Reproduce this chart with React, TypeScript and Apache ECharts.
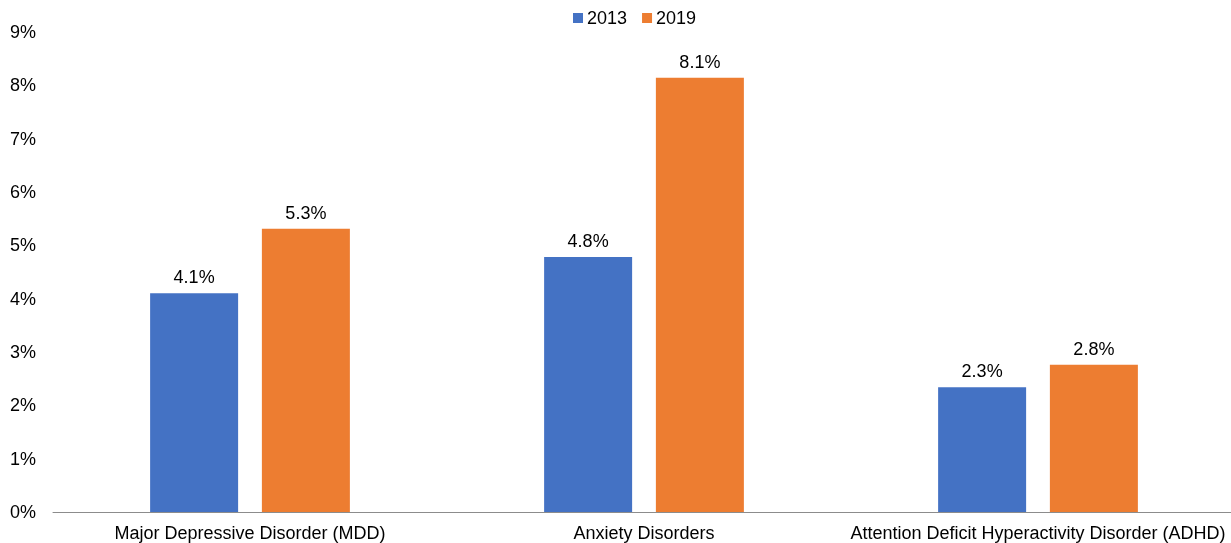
import React, { useEffect, useRef } from "react";
import * as echarts from "echarts";

const categories = [
  "Major Depressive Disorder (MDD)",
  "Anxiety Disorders",
  "Attention Deficit Hyperactivity Disorder (ADHD)",
];
const series2013 = [4.1, 4.78, 2.34];
const series2019 = [5.31, 8.14, 2.76];
const yTicks = [0, 1, 2, 3, 4, 5, 6, 7, 8, 9];

const FONT = "'Liberation Sans', Arial, sans-serif";

export default function App() {
  const ref = useRef<HTMLDivElement>(null);
  useEffect(() => {
    if (!ref.current) return;
    const chart = echarts.init(ref.current, null, { renderer: "svg" });
    const label = {
      show: true,
      position: "top" as const,
      distance: 7,
      fontSize: 18,
      fontFamily: FONT,
      color: "#000",
      formatter: (p: any) => `${Number(p.value).toFixed(1)}%`,
    };
    chart.setOption({
      animation: false,
      textStyle: { fontFamily: FONT },
      legend: {
        top: 4,
        left: 568,
        itemWidth: 10,
        itemHeight: 10,
        itemGap: 15,
        icon: "rect",
        textStyle: { fontSize: 18, color: "#000", fontFamily: FONT, padding: [0, 0, 0, -1] },
        data: ["2013", "2019"],
      },
      grid: { left: 53, right: 0, top: 32, bottom: 31, containLabel: false },
      xAxis: {
        type: "category",
        data: categories,
        axisLine: { lineStyle: { color: "#8c8c8c", width: 1 } },
        axisTick: { show: false },
        axisLabel: { fontSize: 18, color: "#000", fontFamily: FONT, margin: 12, interval: 0 },
      },
      yAxis: {
        type: "value",
        min: yTicks[0],
        max: yTicks[yTicks.length - 1],
        interval: 1,
        splitLine: { show: false },
        axisLine: { show: false },
        axisTick: { show: false },
        axisLabel: {
          fontSize: 18,
          color: "#000",
          fontFamily: FONT,
          margin: 17,
          formatter: (v: number) => `${v}%`,
        },
      },
      series: [
        {
          name: "2013",
          type: "bar",
          data: series2013,
          barWidth: 88,
          barGap: "27%",
          itemStyle: { color: "#4472c4" },
          label,
        },
        {
          name: "2019",
          type: "bar",
          data: series2019,
          barWidth: 88,
          barGap: "27%",
          itemStyle: { color: "#ed7d31" },
          label,
        },
      ],
    });
    return () => chart.dispose();
  }, []);
  return (
    <div style={{ position: "fixed", left: 0, top: 0, width: 1231, height: 543, overflow: "hidden" }}>
      <div ref={ref} style={{ width: 1235, height: 543 }} />
    </div>
  );
}
